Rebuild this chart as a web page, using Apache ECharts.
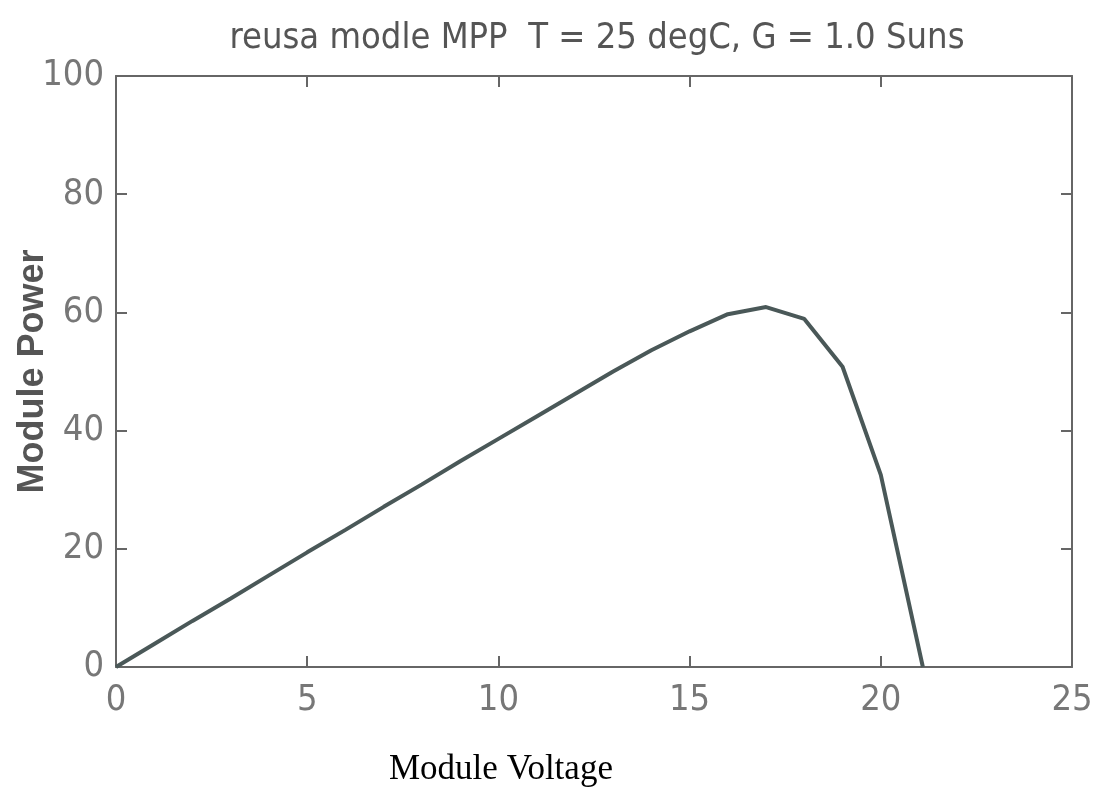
<!DOCTYPE html>
<html>
<head>
<meta charset="utf-8">
<script src="https://cdn.jsdelivr.net/npm/echarts@6/dist/echarts.min.js"></script>
<style>html,body{margin:0;padding:0;background:#fff}#c{width:1097px;height:805px}</style>
</head>
<body>
<div id="c"></div>
<script>
const titleText = 'reusa modle MPP  T = 25 degC, G = 1.0 Suns';
const xName = 'Module Voltage';
const yName = 'Module Power';
const voltage = [0, 1, 2, 3, 4, 5, 6, 7, 8, 9, 10, 11, 12, 13, 14, 15, 16, 17, 18, 19, 20, 21.1];
const power = [0, 3.9, 7.8, 11.6, 15.5, 19.4, 23.2, 27.1, 30.9, 34.8, 38.6, 42.4, 46.2, 50.0, 53.6, 56.8, 59.7, 60.9, 58.9, 50.8, 32.5, 0];
const xTicks = [0, 5, 10, 15, 20, 25];
const yTicks = [0, 20, 40, 60, 80, 100];

const tickFont = '"Liberation Sans Narrow", "DejaVu Sans Condensed", "Liberation Sans", sans-serif';
const axisColor = '#666';
const labelColor = '#777';

const chart = echarts.init(document.getElementById('c'), null, {renderer: 'canvas'});
const baseX = {
  type: 'value', min: xTicks[0], max: xTicks[xTicks.length - 1], interval: 5,
  axisLine: {show: true, onZero: false, lineStyle: {color: axisColor, width: 2}},
  axisTick: {show: true, inside: true, length: 11, lineStyle: {color: axisColor, width: 2}},
  splitLine: {show: false}
};
const baseY = {
  type: 'value', min: yTicks[0], max: yTicks[yTicks.length - 1], interval: 20,
  axisLine: {show: true, onZero: false, lineStyle: {color: axisColor, width: 2}},
  axisTick: {show: true, inside: true, length: 11, lineStyle: {color: axisColor, width: 2}},
  splitLine: {show: false}
};
chart.setOption({
  animation: false,
  backgroundColor: '#fff',
  title: {
    text: titleText, left: 592, top: 16, textAlign: 'center',
    textStyle: {fontFamily: tickFont, fontWeight: 'normal', fontSize: 36, color: '#555'}
  },
  grid: {left: 116, right: 25, top: 76, bottom: 138, outerBoundsMode: 'none', containLabel: false},
  graphic: [{
    type: 'text', left: 389, top: 752,
    style: {
      text: xName, fill: '#000',
      font: '35px "Liberation Serif", "Times New Roman", serif'
    }
  }],
  xAxis: [
    Object.assign({}, baseX, {
      position: 'bottom',
      axisLabel: {show: true, margin: 16, fontFamily: tickFont, fontSize: 36, color: labelColor}
    }),
    Object.assign({}, baseX, {position: 'top', axisLabel: {show: false}})
  ],
  yAxis: [
    Object.assign({}, baseY, {
      position: 'left',
      axisLabel: {show: true, margin: 12, fontFamily: tickFont, fontSize: 36, color: labelColor},
      name: yName, nameLocation: 'middle', nameGap: 65, nameMoveOverlap: false,
      nameTextStyle: {fontFamily: '"Liberation Sans", Arial, sans-serif', fontWeight: 'bold', fontSize: 36, color: '#555'}
    }),
    Object.assign({}, baseY, {position: 'right', axisLabel: {show: false}})
  ],
  series: [{
    type: 'line',
    xAxisIndex: 0, yAxisIndex: 0,
    data: voltage.map((v, i) => [v, power[i]]),
    showSymbol: false,
    lineStyle: {color: '#4a5858', width: 4},
    z: 3
  }]
});
</script>
</body>
</html>
